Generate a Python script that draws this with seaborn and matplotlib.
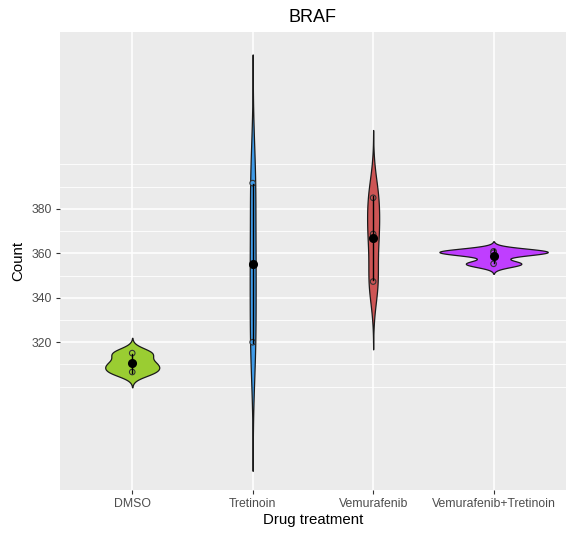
import numpy as np
import pandas as pd
import matplotlib
matplotlib.use("Agg")
import matplotlib.pyplot as plt
import seaborn as sns

# Odczytane wartości (3 powtórzenia na grupę)
drugs = ["DMSO", "Tretinoin", "Vemurafenib", "Vemurafenib+Tretinoin"]
dmso = [315.1, 310.2, 306.6]
tretinoin = [391.6, 354.6, 320.0]
vemurafenib = [385.0, 368.7, 347.3]
vem_tret = [360.9, 360.3, 355.3]
colors = ["#9ACD32", "#3F9BE8", "#CD5555", "#BF3EFF"]

df = pd.DataFrame({
    "drug": np.repeat(drugs, 3),
    "count": dmso + tretinoin + vemurafenib + vem_tret,
})


# szerokość pasma jak w R (bw.nrd0)
def nrd0(kde):
    x = kde.dataset[0]
    sd = x.std(ddof=1)
    q75, q25 = np.percentile(x, [75, 25])
    lo = min(sd, (q75 - q25) / 1.34)
    return 0.9 * lo * len(x) ** -0.2 / sd


plt.rcParams["font.family"] = ["Liberation Sans", "DejaVu Sans"]

fig = plt.figure(figsize=(5.71, 5.37), dpi=100)
ax = fig.add_axes([0.105, 0.0875, 0.886, 0.8525])

sns.violinplot(data=df, x="drug", y="count", hue="drug", order=drugs, hue_order=drugs,
               palette=colors, inner=None, cut=3, bw_method=nrd0, density_norm="area",
               common_norm=True, width=0.9, linecolor="#1a1a1a", linewidth=0.9,
               saturation=1, legend=False, ax=ax)
sns.stripplot(data=df, x="drug", y="count", hue="drug", order=drugs, hue_order=drugs,
              palette=colors, jitter=False, size=4, linewidth=0.8,
              edgecolor="#333333", legend=False, ax=ax, zorder=3)
sns.pointplot(data=df, x="drug", y="count", order=drugs, errorbar="sd",
              color="black", linestyle="none", markersize=4.5,
              err_kws={"linewidth": 1.0}, ax=ax, zorder=4)

ax.set_xlim(-0.6, 3.6)
ax.set_ylim(253.5, 459.5)
ax.set_yticks([320, 340, 360, 380])
ax.set_yticks([300, 310, 330, 350, 370, 390, 400], minor=True)
ax.set_facecolor("#EBEBEB")
ax.set_axisbelow(True)
ax.grid(True, which="major", color="white", linewidth=1.1)
ax.grid(True, which="minor", axis="y", color="white", linewidth=0.6)
for s in ax.spines.values():
    s.set_visible(False)
ax.tick_params(which="major", length=3, color="#333333", labelcolor="#4D4D4D",
               labelsize=8.8, width=0.8, pad=3)
ax.tick_params(which="minor", length=0)

ax.set_title("BRAF", fontsize=13, pad=7)
ax.set_xlabel("Drug treatment", fontsize=10.8, labelpad=2)
ax.set_ylabel("Count", fontsize=10.8, labelpad=4)

fig.savefig("out.png", dpi=100)
